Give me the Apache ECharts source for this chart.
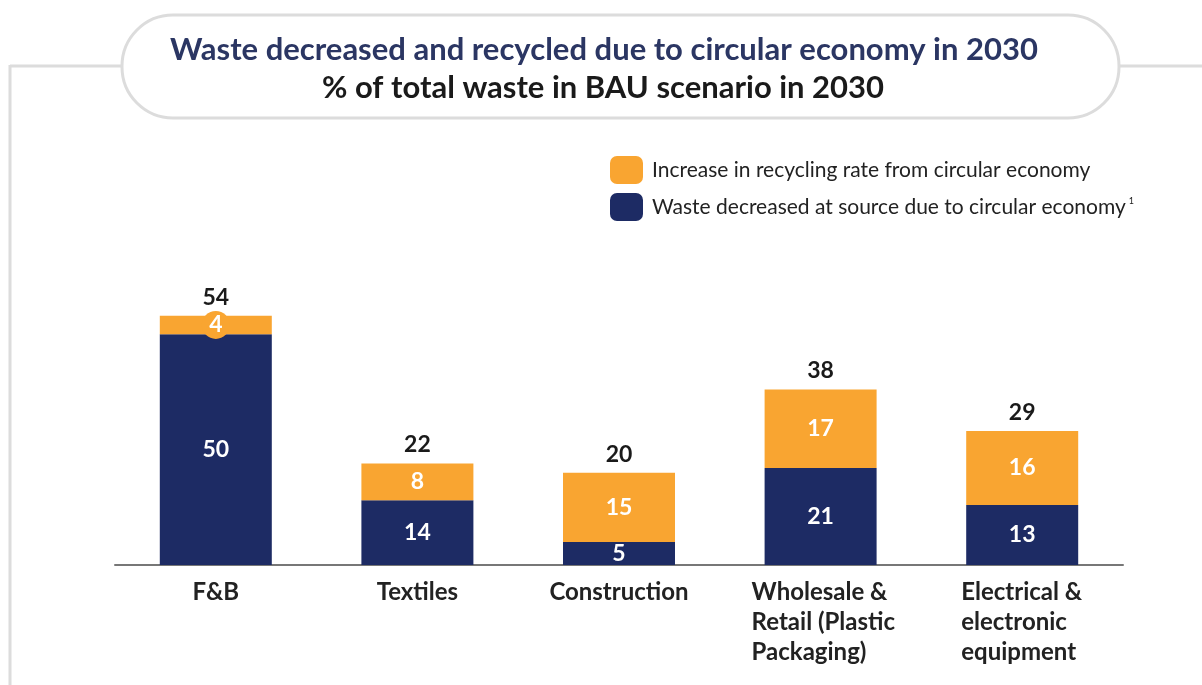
<!DOCTYPE html>
<html>
<head>
<meta charset="utf-8">
<script src="https://cdn.jsdelivr.net/npm/echarts@6/dist/echarts.min.js"></script>
<style>html,body{margin:0;padding:0;background:#fff;}#c{width:1202px;height:685px;}</style>
</head>
<body>
<div id="c"></div>
<script>
const categories = ['F&B', 'Textiles', 'Construction', 'Wholesale &\nRetail (Plastic\nPackaging)', 'Electrical &\nelectronic\nequipment'];
const wasteDecreased = [50, 14, 5, 21, 13];
const recyclingIncrease = [4, 8, 15, 17, 16];
const totals = [54, 22, 20, 38, 29];
const titleLine1 = 'Waste decreased and recycled due to circular economy in 2030';
const titleLine2 = '% of total waste in BAU scenario in 2030';
const seriesNames = ['Increase in recycling rate from circular economy', 'Waste decreased at source due to circular economy'];

const ORANGE = '#F9A531';
const NAVY = '#1D2B64';
const FONT = 'Lato';

const chart = echarts.init(document.getElementById('c'));

const orangeData = recyclingIncrease.map((v, i) => {
  if (i === 0) {
    return {
      value: v,
      label: {
        backgroundColor: ORANGE,
        width: 28, height: 28, lineHeight: 28,
        borderRadius: 14, align: 'center'
      }
    };
  }
  return v;
});

chart.setOption({
  animation: false,
  textStyle: { fontFamily: FONT },
  graphic: [
    { type: 'line', shape: { x1: 10, y1: 66, x2: 125, y2: 66 }, style: { stroke: '#dcdcdc', lineWidth: 3 }, z: 0 },
    { type: 'line', shape: { x1: 10, y1: 65, x2: 10, y2: 685 }, style: { stroke: '#dcdcdc', lineWidth: 3 }, z: 0 },
    { type: 'line', shape: { x1: 1116, y1: 66, x2: 1202, y2: 66 }, style: { stroke: '#dcdcdc', lineWidth: 3 }, z: 0 },
    { type: 'rect', shape: { x: 122, y: 15, width: 997, height: 103, r: 51 }, style: { fill: '#fff', stroke: '#dcdcdc', lineWidth: 3 }, z: 1 },
    { type: 'text', x: 604, y: 50, style: { text: titleLine1, fill: '#2B3663', font: 'bold 31px Lato', align: 'center', verticalAlign: 'middle' }, z: 2 },
    { type: 'text', x: 603, y: 88, style: { text: titleLine2, fill: '#1a1a1a', font: 'bold 31px Lato', align: 'center', verticalAlign: 'middle' }, z: 2 }
  ],
  legend: {
    orient: 'vertical',
    left: 610, top: 156,
    padding: 0,
    itemWidth: 33, itemHeight: 28,
    itemGap: 9,
    data: seriesNames,
    textStyle: {
      fontFamily: FONT, fontSize: 21, color: '#222', padding: [0, 0, 0, 4],
      rich: { sup: { fontSize: 9, verticalAlign: 'top', lineHeight: 10, padding: [0, 0, 14, 3], color: '#222' } }
    },
    formatter: function (name) {
      return name === seriesNames[1] ? name + '{sup|1}' : name;
    },
    selectedMode: false
  },
  grid: { left: 115, right: 79, top: 288, bottom: 120 },
  xAxis: {
    type: 'category',
    data: categories,
    axisLine: { lineStyle: { color: '#777', width: 2 } },
    axisTick: { show: false },
    axisLabel: {
      interval: 0,
      margin: 12,
      color: '#222',
      fontFamily: FONT,
      fontSize: 24,
      fontWeight: 'bold',
      lineHeight: 30,
      formatter: function (v, i) {
        if (i === 3) return v.split('\n').map(s => '{w|' + s + '}').join('\n');
        if (i === 4) return v.split('\n').map(s => '{e|' + s + '}').join('\n');
        return v;
      },
      rich: {
        w: { width: 138, align: 'left', fontSize: 24, fontWeight: 'bold', color: '#222', lineHeight: 30, fontFamily: FONT },
        e: { width: 122, align: 'left', fontSize: 24, fontWeight: 'bold', color: '#222', lineHeight: 30, fontFamily: FONT }
      }
    }
  },
  yAxis: { type: 'value', min: 0, max: 60, show: false, splitLine: { show: false } },
  series: [
    {
      name: seriesNames[1], type: 'bar', stack: 's', barWidth: 112,
      itemStyle: { color: NAVY },
      data: wasteDecreased,
      label: { show: true, position: 'inside', color: '#fff', fontSize: 23, fontWeight: 'bold', fontFamily: FONT }
    },
    {
      name: seriesNames[0], type: 'bar', stack: 's', barWidth: 112,
      itemStyle: { color: ORANGE },
      data: orangeData,
      label: { show: true, position: 'inside', color: '#fff', fontSize: 23, fontWeight: 'bold', fontFamily: FONT }
    },
    {
      name: 'Total', type: 'bar', stack: 's', barWidth: 112,
      itemStyle: { color: 'transparent' },
      data: totals.map(() => 0),
      label: {
        show: true, position: 'top', distance: 7, color: '#1a1a1a', fontSize: 23, fontWeight: 'bold', fontFamily: FONT,
        formatter: p => String(totals[p.dataIndex])
      }
    }
  ]
});
</script>
</body>
</html>
